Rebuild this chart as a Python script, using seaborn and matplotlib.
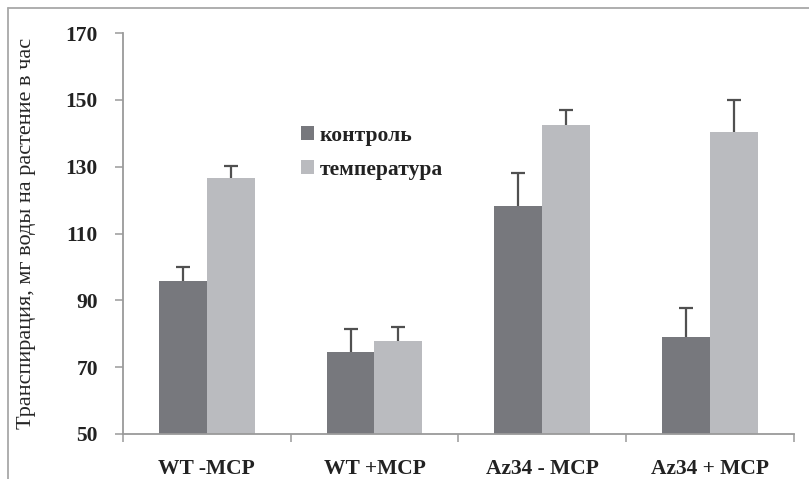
import matplotlib
matplotlib.use("Agg")
import matplotlib.pyplot as plt
import seaborn as sns
import pandas as pd
import numpy as np
from matplotlib.lines import Line2D

categories = ["WT -MCP", "WT +MCP", "Az34 - MCP", "Az34 + MCP"]
series = ["контроль", "температура"]
control_vals = [95.8, 74.6, 118.1, 79.0]
temp_vals = [126.6, 77.9, 142.4, 140.3]
control_err = [4.3, 6.8, 9.9, 8.7]
temp_err = [3.6, 4.2, 4.6, 9.7]
yticks = [50, 70, 90, 110, 130, 150, 170]

df = pd.DataFrame({
    "cat": categories * 2,
    "grp": [series[0]] * 4 + [series[1]] * 4,
    "val": control_vals + temp_vals,
    "err": control_err + temp_err,
})

sns.set_style("white")
plt.rcParams["font.family"] = ["Liberation Serif", "DejaVu Serif"]

fig = plt.figure(figsize=(8.09, 4.79), dpi=100)
ax = fig.add_axes([0.152, 0.094, 0.829, 0.837])

colors = ["#77787d", "#babbbf"]
sns.barplot(data=df, x="cat", y="val", hue="grp", hue_order=series,
            palette=colors, errorbar=None, width=0.57, gap=0,
            saturation=1, linewidth=0, ax=ax)

# error bars (upper only) at the bars' centres
for cont, grp in zip(ax.containers, series):
    sub = df[df["grp"] == grp]
    xs = [p.get_x() + p.get_width() / 2 for p in cont.patches]
    _, caps, _ = ax.errorbar(xs, sub["val"].values,
                             yerr=[np.zeros(len(sub)), sub["err"].values],
                             fmt="none", ecolor="#505050", elinewidth=1.6,
                             capsize=5, capthick=1.6, zorder=5)
    caps[0].set_visible(False)

ax.set_ylim(50, 170)
ax.set_xlim(-0.5, 3.5)
ax.set_yticks(yticks)
ax.set_xlabel("")
ax.set_ylabel("Транспирация, мг воды на растение в час", fontsize=16)
ax.yaxis.set_label_coords(-0.129, 0.5)

for s in ["top", "right"]:
    ax.spines[s].set_visible(False)
for s in ["left", "bottom"]:
    ax.spines[s].set_color("#9a9a9a")
    ax.spines[s].set_linewidth(1.3)

ax.tick_params(axis="y", which="major", direction="out", length=6,
               color="#9a9a9a", width=1.1, labelsize=15.5, pad=12, left=True)
ax.tick_params(axis="x", which="major", length=0, labelsize=15.5, pad=18)
ax.set_xticks([-0.5, 0.5, 1.5, 2.5, 3.5], minor=True)
ax.tick_params(axis="x", which="minor", direction="out", length=6,
               color="#9a9a9a", width=1.1, bottom=True)
for lab in ax.get_xticklabels() + ax.get_yticklabels():
    lab.set_fontweight("bold")
    lab.set_color("#222222")

leg = ax.legend(loc="upper left", bbox_to_anchor=(0.252, 0.79),
                frameon=False, fontsize=15.5, handlelength=0.6,
                handleheight=0.6, handletextpad=0.3, labelspacing=0.65,
                borderaxespad=0)
for t in leg.get_texts():
    t.set_fontweight("bold")
    t.set_color("#222222")

# figure frame lines (left and top)
fig.add_artist(Line2D([8 / 809, 8 / 809], [0, 1 - 8 / 479],
                      transform=fig.transFigure, color="#a8a8a8", lw=1.3))
fig.add_artist(Line2D([8 / 809, 1], [1 - 8 / 479, 1 - 8 / 479],
                      transform=fig.transFigure, color="#a8a8a8", lw=1.3))

fig.savefig("out.png", dpi=100)
